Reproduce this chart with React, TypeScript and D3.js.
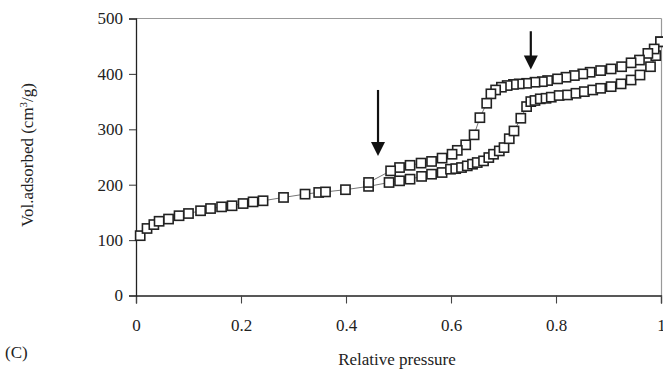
import React, { useEffect, useRef } from "react";
import * as d3 from "d3";

// Adsorption branch (lower)
const adsX = [0.008, 0.021, 0.034, 0.044, 0.062, 0.082, 0.100, 0.123, 0.142, 0.163, 0.183, 0.204, 0.223, 0.242, 0.281, 0.322, 0.348, 0.361, 0.399, 0.443, 0.482, 0.502, 0.522, 0.544, 0.563, 0.583, 0.599, 0.609, 0.620, 0.631, 0.641, 0.650, 0.662, 0.672, 0.681, 0.692, 0.701, 0.711, 0.720, 0.733, 0.744, 0.752, 0.760, 0.770, 0.781, 0.791, 0.806, 0.822, 0.838, 0.854, 0.870, 0.885, 0.905, 0.924, 0.943, 0.960, 0.980, 0.990, 0.999];
const adsY = [108, 121, 128, 134, 138, 144, 148, 153, 157, 160, 162, 166, 169, 171, 177, 183, 186, 187, 191, 197, 204, 207, 210, 215, 219, 222, 228, 229, 231, 234, 237, 240, 243, 249, 255, 261, 267, 283, 297, 320, 341, 350, 352, 355, 356, 358, 361, 362, 365, 368, 371, 374, 377, 382, 389, 398, 413, 433, 458];

// Desorption branch (upper)
const desX = [0.999, 0.987, 0.975, 0.959, 0.943, 0.925, 0.905, 0.885, 0.865, 0.851, 0.835, 0.819, 0.803, 0.784, 0.774, 0.760, 0.744, 0.730, 0.719, 0.707, 0.696, 0.685, 0.676, 0.668, 0.655, 0.644, 0.628, 0.612, 0.602, 0.583, 0.563, 0.543, 0.522, 0.502, 0.485, 0.443];
const desY = [458, 445, 437, 425, 420, 413, 409, 406, 403, 400, 397, 394, 391, 388, 386, 385, 383, 382, 381, 379, 376, 371, 364, 347, 321, 290, 272, 262, 255, 248, 242, 239, 235, 231, 225, 204];

// Arrow annotations (data coordinates)
const arrowX = [0.461, 0.752];
const arrowTop = [371, 477];
const arrowTip = [252, 408];

const xTicks = [0, 0.2, 0.4, 0.6, 0.8, 1];
const yTicks = [0, 100, 200, 300, 400, 500];

const W = 663;
const H = 373;
const FONT = "'Liberation Serif', 'Times New Roman', serif";

export default function App() {
  const ref = useRef<SVGSVGElement>(null);

  useEffect(() => {
    document.body.style.margin = "0";
    const svg = d3.select(ref.current);
    svg.selectAll("*").remove();

    const x = d3.scaleLinear().domain([0, 1]).range([136, 661]);
    const y = d3.scaleLinear().domain([0, 500]).range([295.5, 18.5]);

    // frame (top/right gray)
    svg.append("line").attr("x1", 136).attr("x2", 661.5).attr("y1", y(500)).attr("y2", y(500))
      .attr("stroke", "#999").attr("stroke-width", 1.2);
    svg.append("line").attr("x1", 661.5).attr("x2", 661.5).attr("y1", y(500)).attr("y2", y(0))
      .attr("stroke", "#999").attr("stroke-width", 1.2);

    const gx = svg.append("g").attr("transform", `translate(0,${y(0)})`)
      .call(d3.axisBottom(x).tickValues(xTicks).tickSize(8).tickPadding(15).tickFormat((d: any) => String(d)));
    const gy = svg.append("g").attr("transform", `translate(${x(0)},0)`)
      .call(d3.axisLeft(y).tickValues(yTicks).tickSize(7).tickPadding(6).tickFormat((d: any) => String(d)));
    [gx, gy].forEach((g) => {
      g.select(".domain").attr("stroke", "#222").attr("stroke-width", 1.3);
      g.selectAll(".tick line").attr("stroke", "#444").attr("stroke-width", 1.1);
      g.selectAll(".tick text").attr("font-family", FONT).attr("font-size", 17).attr("fill", "#222");
    });

    const line = d3.line<[number, number]>().x((d) => x(d[0])).y((d) => y(d[1]));
    const ads: [number, number][] = adsX.map((v, i) => [v, adsY[i]]);
    const des: [number, number][] = desX.map((v, i) => [v, desY[i]]);

    [ads, des].forEach((data) => {
      svg.append("path").attr("d", line(data)).attr("fill", "none").attr("stroke", "#666").attr("stroke-width", 0.9);
    });
    const s = 9.2;
    [ads, des].forEach((data) => {
      svg.append("g").selectAll("rect").data(data).enter().append("rect")
        .attr("x", (d) => x(d[0]) - s / 2).attr("y", (d) => y(d[1]) - s / 2)
        .attr("width", s).attr("height", s)
        .attr("fill", "white").attr("stroke", "#222").attr("stroke-width", 1.6);
    });

    // arrows
    arrowX.forEach((ax, i) => {
      const px = x(ax);
      const top = y(arrowTop[i]);
      const tip = y(arrowTip[i]);
      const hl = 14;
      const hw = 7;
      svg.append("line").attr("x1", px).attr("x2", px).attr("y1", top).attr("y2", tip - hl + 1)
        .attr("stroke", "#111").attr("stroke-width", 2.2);
      svg.append("path").attr("d", `M${px - hw},${tip - hl} L${px + hw},${tip - hl} L${px},${tip} Z`).attr("fill", "#111");
    });

    svg.append("text").attr("x", 397).attr("y", 365).attr("text-anchor", "middle")
      .attr("font-family", FONT).attr("font-size", 17).attr("fill", "#222").text("Relative pressure");
    svg.append("text").attr("x", 5).attr("y", 358)
      .attr("font-family", FONT).attr("font-size", 17).attr("fill", "#222").text("(C)");

    const yl = svg.append("text").attr("transform", `translate(33,155) rotate(-90)`).attr("text-anchor", "middle")
      .attr("font-family", FONT).attr("font-size", 17).attr("fill", "#222");
    yl.append("tspan").text("Vol.adsorbed (cm");
    yl.append("tspan").attr("font-size", 11).attr("dy", -6).text("3");
    yl.append("tspan").attr("dy", 6).text("/g)");
  }, []);

  return (
    <svg ref={ref} width={W} height={H} style={{ position: "absolute", left: 0, top: 0, background: "white" }} />
  );
}
